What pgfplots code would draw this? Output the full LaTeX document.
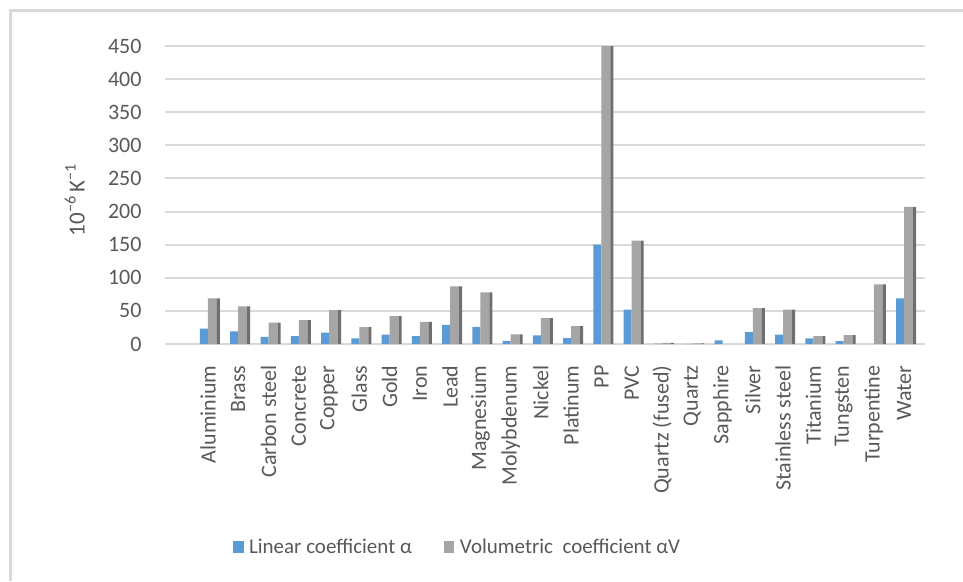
\documentclass[border=0pt]{standalone}
\usepackage{pgfplots}
\pgfplotsset{compat=1.18}
\usepackage{fontspec}
\setmainfont{Carlito}
\definecolor{txt}{HTML}{595959}
\definecolor{gridc}{HTML}{D9D9D9}
\definecolor{bblue}{HTML}{5B9BD5}
\definecolor{bgray}{HTML}{A5A5A5}
\definecolor{bside}{HTML}{6F6F6F}
\begin{document}
\begin{tikzpicture}[x=1pt,y=1pt]
\useasboundingbox (0,0) rectangle (963,581);
\draw[color=gridc, line width=2.5pt] (10.5,0) -- (10.5,570.5) -- (963,570.5);
\begin{axis}[
  at={(165pt,237pt)}, anchor=south west,
  scale only axis, width=760pt, height=298pt,
  xmin=-1.42, xmax=23.69, ymin=0, ymax=450,
  axis line style={draw=none},
  major tick length=0pt,
  ytick={0,50,...,450},
  ymajorgrids, grid style={line width=2pt, color=gridc},
  xtick={0,...,23},
  xticklabels={Aluminium,Brass,Carbon steel,Concrete,Copper,Glass,Gold,Iron,Lead,Magnesium,Molybdenum,Nickel,Platinum,PP,PVC,Quartz (fused),Quartz,Sapphire,Silver,Stainless steel,Titanium,Tungsten,Turpentine,Water},
  xticklabel style={rotate=90, anchor=east, font=\fontsize{22}{26}\selectfont, text=txt},
  yticklabel style={font=\fontsize{22}{26}\selectfont, text=txt},
  xticklabel shift=18pt,
  yticklabel shift=20pt,
  /pgf/number format/assume math mode=true,
  ylabel={10\textsuperscript{\char"2212 6}\,K\textsuperscript{\char"2212 1}},
  ylabel style={at={(axis description cs:-0.101,0.483)}, anchor=south, font=\fontsize{23}{27}\selectfont, text=txt},
  legend style={at={(axis description cs:0.385,-0.681)}, anchor=center, draw=none,
    font=\fontsize{21}{25}\selectfont, text=txt,
    /tikz/every even column/.append style={column sep=30pt}},
  legend columns=2,
  legend image code/.code={\path (0pt,0pt) -- (14pt,0pt);\fill[#1,/tikz/.cd] (0pt,-6.25pt) rectangle (10.5pt,6.25pt);},
]
\addplot[ybar, bar width=8pt, bar shift=-4pt, fill=bblue, draw=none] coordinates {
(0,23.1) (1,19) (2,10.8) (3,12) (4,17) (5,8.5) (6,14) (7,11.8) (8,29) (9,26)
(10,4.8) (11,13) (12,9) (13,150) (14,52) (15,0.59) (16,0.33) (17,5.3) (18,18)
(19,14) (20,8.6) (21,4.5) (23,69)};
\addlegendentry{Linear coefficient α}
\addplot[ybar, bar width=9pt, bar shift=4.5pt, fill=bgray, draw=none] coordinates {
(0,69) (1,57) (2,32.4) (3,36) (4,51) (5,25.5) (6,42) (7,33.3) (8,87) (9,78)
(10,14.4) (11,39) (12,27) (13,450) (14,156) (15,1.77) (16,1) (18,54)
(19,52) (20,12) (21,13.5) (22,90) (23,207)};
\addlegendentry{Volumetric\ \ coefficient αV}
\addplot[ybar, bar width=3pt, bar shift=10.5pt, fill=bside, draw=none, forget plot] coordinates {
(0,69) (1,57) (2,32.4) (3,36) (4,51) (5,25.5) (6,42) (7,33.3) (8,87) (9,78)
(10,14.4) (11,39) (12,27) (13,450) (14,156) (15,1.77) (16,1) (18,54)
(19,52) (20,12) (21,13.5) (22,90) (23,207)};
\end{axis}
\end{tikzpicture}
\end{document}
